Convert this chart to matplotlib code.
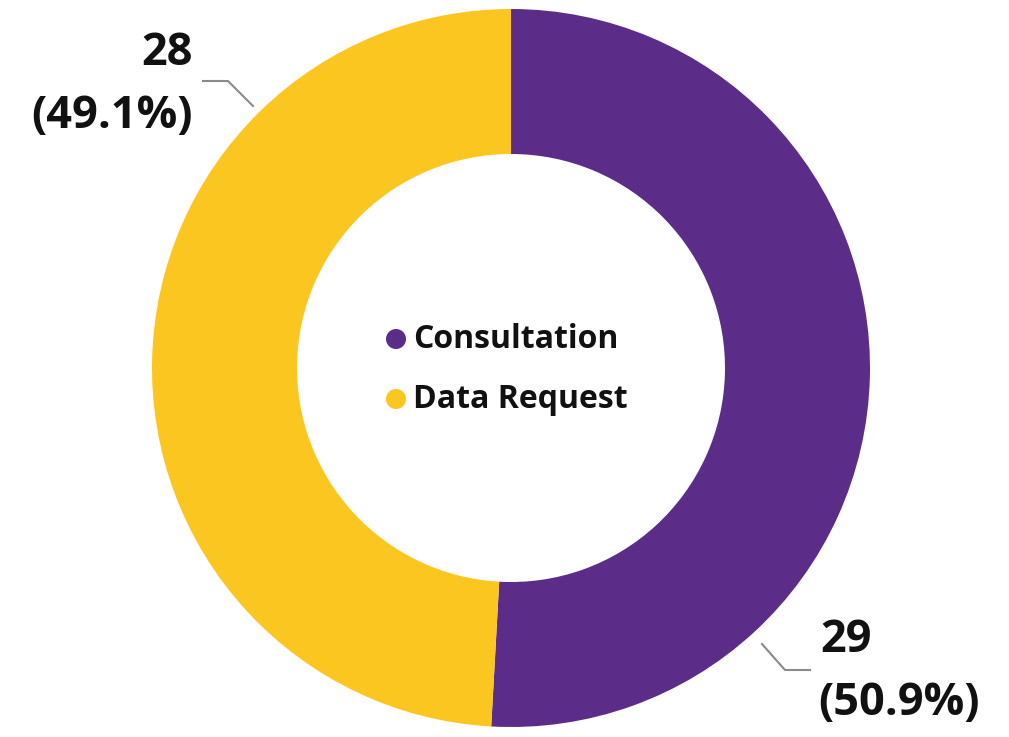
import matplotlib.pyplot as plt
from matplotlib.patches import Circle

categories = ["Consultation", "Data Request"]
counts = [29, 28]
colors = ["#5B2D89", "#FCC620"]

W, H = 1009, 737
fig = plt.figure(figsize=(W / 100, H / 100), dpi=100)
ax = fig.add_axes([0, 0, 1, 1])

cx, cy, r = 511, H - 368, 359
ax.pie(counts, colors=colors, startangle=90, counterclock=False,
       center=(cx, cy), radius=r, frame=True,
       wedgeprops=dict(width=145, linewidth=0))
ax.set_xlim(0, W)
ax.set_ylim(0, H)
ax.set_aspect("equal")
ax.axis("off")

total = sum(counts)
font = "Open Sans"
lab = dict(fontsize=32.5, fontweight="bold", family=font, color="#111111", va="center")
# data labels with leader lines
ax.plot([203, 228, 253], [H - 81, H - 81, H - 106], color="#8a8a8a", lw=1.5)
ax.text(193, H - 53, f"{counts[1]}", ha="right", **lab)
ax.text(193, H - 116, f"({counts[1] / total * 100:.1f}%)", ha="right", **lab)

ax.plot([762, 785, 810], [H - 644, H - 670, H - 670], color="#8a8a8a", lw=1.5)
ax.text(820, H - 640, f"{counts[0]}", ha="left", **lab)
ax.text(818, H - 703, f"({counts[0] / total * 100:.1f}%)", ha="left", **lab)

# legend in the hole
for i, (cat, col) in enumerate(zip(categories, colors)):
    y = H - (339 + i * 60)
    ax.add_patch(Circle((396, y), 10, color=col, lw=0))
    ax.text(413, y, cat, ha="left", va="center", fontsize=23,
            fontweight="bold", family=font, color="#111111")

fig.savefig("out.png", dpi=100)
